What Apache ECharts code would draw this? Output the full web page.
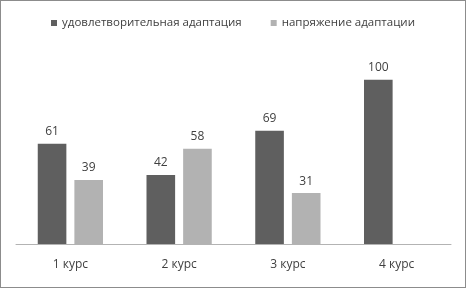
<!DOCTYPE html>
<html><head><meta charset="utf-8">
<script src="https://cdn.jsdelivr.net/npm/echarts@6/dist/echarts.min.js"></script>
<style>
html,body{margin:0;padding:0;background:#fff;}
#c{width:466px;height:288px;box-sizing:border-box;border:1px solid #8c8c8c;}
</style></head>
<body><div id="c"></div>
<script>
const categories = ['1 курс', '2 курс', '3 курс', '4 курс'];
const seriesNames = ['удовлетворительная адаптация', 'напряжение адаптации'];
const satisfactory = [61, 42, 69, 100];
const tension = [39, 58, 31, null];

const chart = echarts.init(document.getElementById('c'), null, {renderer: 'canvas'});
const font = 'Open Sans';
chart.setOption({
  animation: false,
  legend: {
    top: 11, left: 'center', itemWidth: 6, itemHeight: 6, itemGap: 29,
    icon: 'rect',
    textStyle: {fontFamily: font, fontSize: 11.5, color: '#404040'},
    data: seriesNames
  },
  grid: {left: 15, right: 14, top: 46, bottom: 43},
  xAxis: {
    type: 'category', data: categories,
    axisLine: {lineStyle: {color: '#b3b3b3'}},
    axisTick: {show: false},
    axisLabel: {fontFamily: font, fontSize: 12, color: '#404040', margin: 15}
  },
  yAxis: {type: 'value', min: 0, max: 120, show: false, splitLine: {show: false}},
  series: [
    {name: seriesNames[0], type: 'bar', data: satisfactory, barGap: '28%', barCategoryGap: '40%',
     itemStyle: {color: '#5f5f5f'},
     label: {show: true, position: 'top', distance: 6, fontFamily: font, fontSize: 12, color: '#404040'}},
    {name: seriesNames[1], type: 'bar', data: tension,
     itemStyle: {color: '#b2b2b2'},
     label: {show: true, position: 'top', distance: 6, fontFamily: font, fontSize: 12, color: '#404040'}}
  ]
});
</script></body></html>
